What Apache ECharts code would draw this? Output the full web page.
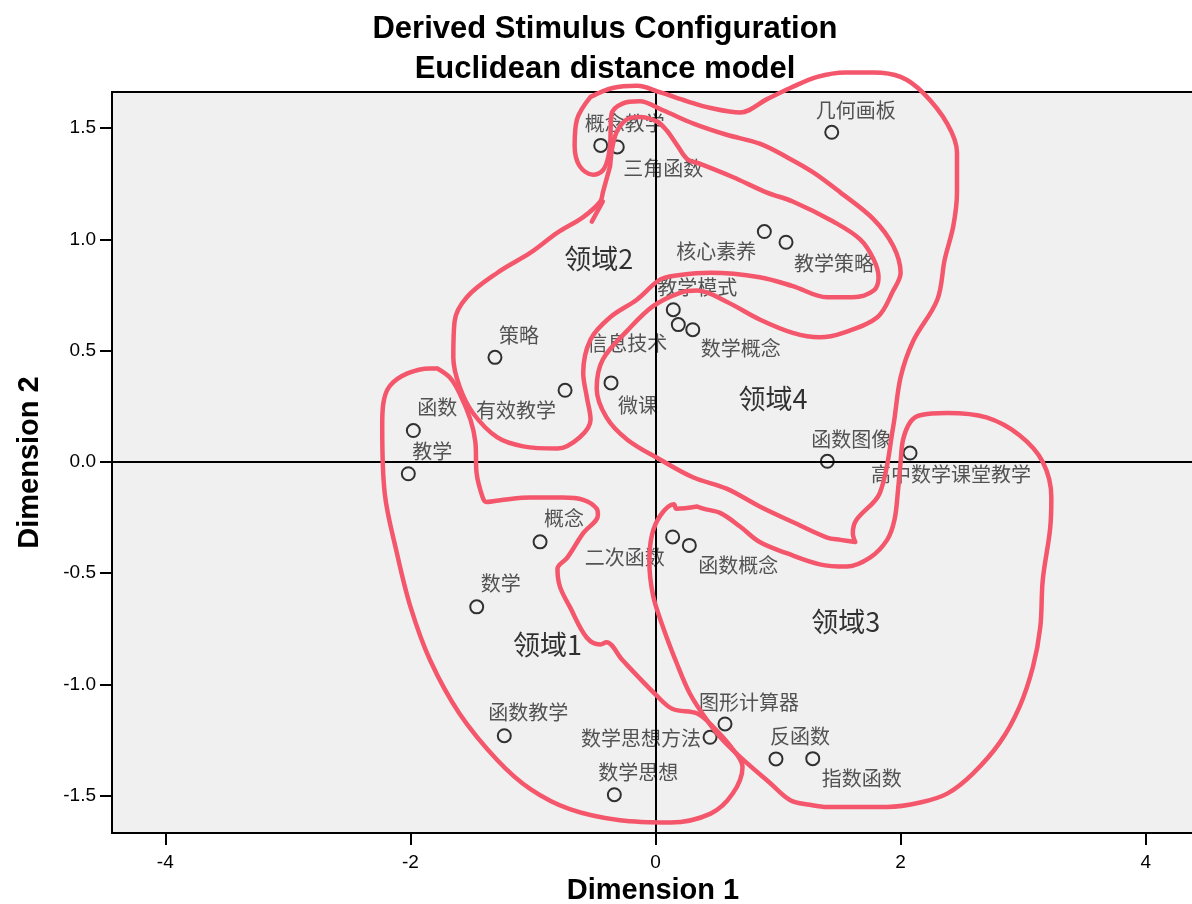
<!DOCTYPE html>
<html><head><meta charset="utf-8">
<script src="https://cdn.jsdelivr.net/npm/echarts@6/dist/echarts.min.js"></script>
<style>html,body{margin:0;padding:0;background:#fff}#c{width:1192px;height:904px}</style>
</head><body><div id="c"></div>
<script>
// ---- data ----
const names = ['概念教学','三角函数','几何画板','核心素养','教学策略','教学模式','信息技术','数学概念','策略','有效教学','微课','函数','教学','函数图像','高中数学课堂教学','概念','二次函数','函数概念','数学','函数教学','图形计算器','数学思想方法','反函数','指数函数','数学思想'];
const dim1 = [-0.447,-0.312,1.438,0.888,1.065,0.145,0.186,0.304,-1.310,-0.738,-0.363,-1.976,-2.017,1.402,2.077,-0.942,0.140,0.276,-1.459,-1.234,0.567,0.445,0.983,1.283,-0.336];
const dim2 = [1.422,1.415,1.481,1.035,0.987,0.684,0.617,0.594,0.470,0.322,0.355,0.141,-0.053,0.003,0.040,-0.359,-0.337,-0.375,-0.651,-1.230,-1.177,-1.237,-1.334,-1.333,-1.495];
// label placement (pixel offsets of label centre from its point) - style only
const labelOffset = [[24,-22],[46,21],[24,-22],[-48,20],[48,21],[24,-22],[-51,19],[48,19],[24,-22],[-49,20],[27,22],[24,-23],[24,-22],[24,-22],[41,21],[24,-23],[-48,20],[49,20],[24,-23],[24,-23],[24,-22],[-69,1],[24,-22],[49,20],[24,-22]];

const regionNames = ['领域1','领域2','领域3','领域4'];
const regionDim1 = [-0.881,-0.463,1.553,0.959];
const regionDim2 = [-0.821,0.912,-0.716,0.283];

const xTicks = [-4,-2,0,2,4];
const yTicks = [-1.5,-1.0,-0.5,0,0.5,1.0,1.5];

// hand-drawn region outlines (data units)
const domain1Curve = [[-1.78,0.42],[-1.84,0.42],[-2.17,0.34],[-2.23,0.16],[-2.21,-0.14],[-2.11,-0.41],[-2.00,-0.65],[-1.84,-0.89],[-1.60,-1.13],[-1.29,-1.34],[-1.02,-1.47],[-0.70,-1.56],[-0.29,-1.61],[0.12,-1.62],[0.45,-1.58],[0.63,-1.49],[0.71,-1.37],[0.63,-1.29],[0.47,-1.19],[0.34,-1.13],[0.14,-1.11],[0.01,-1.05],[-0.27,-0.89],[-0.40,-0.81],[-0.45,-0.82],[-0.56,-0.79],[-0.70,-0.65],[-0.78,-0.56],[-0.80,-0.48],[-0.72,-0.43],[-0.59,-0.32],[-0.47,-0.24],[-0.48,-0.21],[-0.59,-0.17],[-0.76,-0.16],[-1.02,-0.16],[-1.24,-0.17],[-1.38,-0.18],[-1.41,-0.16],[-1.46,-0.05],[-1.47,0.09],[-1.51,0.19],[-1.60,0.31],[-1.68,0.38]];
const domain2Curve = [[-0.37,1.33],[-0.43,1.21],[-0.45,1.17],[-0.59,1.10],[-0.80,1.03],[-1.02,0.94],[-1.29,0.85],[-1.54,0.74],[-1.64,0.63],[-1.65,0.47],[-1.60,0.34],[-1.49,0.22],[-1.29,0.11],[-1.08,0.07],[-0.80,0.06],[-0.62,0.11],[-0.53,0.19],[-0.56,0.29],[-0.59,0.40],[-0.53,0.55],[-0.37,0.65],[-0.15,0.73],[0.04,0.82],[0.20,0.84],[0.45,0.85],[0.85,0.83],[1.12,0.79],[1.40,0.74],[1.61,0.74],[1.78,0.77],[1.82,0.83],[1.78,0.91],[1.67,1.00],[1.45,1.08],[1.12,1.17],[0.91,1.21],[0.63,1.28],[0.36,1.34],[0.26,1.36],[0.18,1.42],[0.09,1.49],[0.01,1.53],[-0.13,1.55],[-0.23,1.54],[-0.31,1.49],[-0.35,1.42]];
const domain2Tail = [[-0.43,1.17],[-0.52,1.08]];
const domain3Curve = [[0.34,-0.20],[0.17,-0.21],[0.15,-0.19],[0.04,-0.24],[-0.03,-0.33],[-0.05,-0.45],[-0.02,-0.60],[0.06,-0.74],[0.17,-0.90],[0.28,-1.04],[0.42,-1.16],[0.55,-1.25],[0.74,-1.35],[0.93,-1.44],[1.10,-1.52],[1.26,-1.54],[1.40,-1.55],[1.61,-1.55],[1.89,-1.55],[2.16,-1.53],[2.38,-1.49],[2.59,-1.40],[2.81,-1.26],[2.97,-1.10],[3.08,-0.92],[3.14,-0.74],[3.16,-0.53],[3.22,-0.30],[3.23,-0.16],[3.16,0.00],[2.97,0.12],[2.70,0.20],[2.38,0.22],[2.16,0.21],[2.08,0.18],[2.02,0.10],[2.00,0.00],[1.98,-0.12],[1.95,-0.26],[1.89,-0.35],[1.75,-0.43],[1.56,-0.47],[1.34,-0.46],[1.07,-0.41],[0.85,-0.36],[0.69,-0.29],[0.53,-0.23],[0.39,-0.21]];
const domain4Curve = [[-0.53,1.64],[-0.35,1.68],[-0.15,1.69],[0.04,1.66],[0.26,1.62],[0.45,1.59],[0.69,1.57],[0.91,1.63],[1.10,1.68],[1.32,1.73],[1.55,1.75],[1.78,1.75],[2.00,1.73],[2.18,1.66],[2.38,1.52],[2.46,1.39],[2.46,1.21],[2.43,1.06],[2.36,0.91],[2.30,0.73],[2.10,0.54],[2.00,0.38],[1.94,0.16],[1.83,-0.14],[1.64,-0.26],[1.61,-0.32],[1.63,-0.36],[1.51,-0.35],[1.40,-0.34],[1.12,-0.27],[0.85,-0.20],[0.58,-0.12],[0.31,-0.07],[0.04,0.01],[-0.23,0.10],[-0.40,0.20],[-0.48,0.33],[-0.43,0.46],[-0.23,0.59],[-0.02,0.70],[0.20,0.76],[0.34,0.77],[0.58,0.72],[0.85,0.64],[1.12,0.58],[1.34,0.56],[1.53,0.58],[1.81,0.65],[1.94,0.77],[2.00,0.85],[1.94,0.97],[1.78,1.09],[1.51,1.21],[1.29,1.30],[1.07,1.37],[0.85,1.43],[0.58,1.47],[0.31,1.52],[0.06,1.58],[-0.13,1.62],[-0.27,1.61],[-0.36,1.56],[-0.37,1.43],[-0.39,1.36],[-0.43,1.31],[-0.51,1.29],[-0.62,1.33],[-0.66,1.42],[-0.64,1.54]];

// ---- chart ----
const chart = echarts.init(document.getElementById('c'), null, {renderer: 'canvas'});
const latin = "'Liberation Sans', Arial, Helvetica, sans-serif";
const cjk = "'Noto Sans CJK SC', 'Noto Sans', sans-serif";
const RED = '#f4566b';
const close = a => a.concat([a[0]]);
const curveSeries = (d, closed) => ({
  type: 'line', data: closed ? close(d) : d, smooth: 0.35, showSymbol: false, symbol: 'none',
  clip: false, silent: true, z: 10,
  lineStyle: {color: RED, width: 4.5, cap: 'round', join: 'round'}
});

chart.setOption({
  animation: false,
  backgroundColor: '#ffffff',
  title: {
    text: 'Derived Stimulus Configuration\nEuclidean distance model',
    left: 600, top: 4, textAlign: 'center',
    textStyle: {fontFamily: latin, fontWeight: 'bold', fontSize: 31, lineHeight: 40, color: '#000'}
  },
  grid: {left: 112, top: 92, right: -2, bottom: 71, show: true, backgroundColor: '#f0f0f0', borderColor: '#000', borderWidth: 2, outerBoundsMode: 'none', containLabel: false},
  xAxis: {
    type: 'value', min: -4.435, max: 4.394, position: 'bottom',
    axisLine: {show: false, onZero: false}, splitLine: {show: false},
    axisTick: {show: true, length: 12, customValues: xTicks, lineStyle: {color: '#000', width: 2}},
    axisLabel: {customValues: xTicks, formatter: v => String(v), fontFamily: latin, fontSize: 19, color: '#000', margin: 20},
    name: 'Dimension 1', nameLocation: 'middle', nameGap: 42,
    nameTextStyle: {fontFamily: latin, fontWeight: 'bold', fontSize: 29, color: '#000'}
  },
  yAxis: {
    type: 'value', min: -1.667, max: 1.662, position: 'left',
    axisLine: {show: false, onZero: false}, splitLine: {show: false},
    axisTick: {show: true, length: 12, customValues: yTicks, lineStyle: {color: '#000', width: 2}},
    axisLabel: {customValues: yTicks, formatter: v => v.toFixed(1), fontFamily: latin, fontSize: 19, color: '#000', margin: 16},
    name: 'Dimension 2', nameLocation: 'middle', nameGap: 68,
    nameTextStyle: {fontFamily: latin, fontWeight: 'bold', fontSize: 29, color: '#000'}
  },
  series: [
    {
      type: 'scatter', z: 3, silent: true,
      symbol: 'circle', symbolSize: 13,
      itemStyle: {color: 'rgba(0,0,0,0)', borderColor: '#000', borderWidth: 2},
      label: {show: true, position: 'inside', formatter: '{b}', fontFamily: cjk, fontSize: 20, color: '#2a2a2a'},
      data: names.map((n, i) => ({name: n, value: [dim1[i], dim2[i]], label: {offset: labelOffset[i]}})),
      markLine: {
        silent: true, symbol: ['none', 'none'], label: {show: false}, animation: false,
        lineStyle: {color: '#000', width: 2, type: 'solid'},
        data: [{xAxis: 0}, {yAxis: 0}]
      }
    },
    {
      type: 'scatter', z: 4, silent: true, symbolSize: 0,
      label: {show: true, position: 'inside', formatter: '{b}', fontFamily: cjk, fontSize: 27, color: '#000'},
      data: regionNames.map((n, i) => ({name: n, value: [regionDim1[i], regionDim2[i]]}))
    },
    curveSeries(domain1Curve, true),
    curveSeries(domain2Curve, true),
    curveSeries(domain2Tail, false),
    curveSeries(domain3Curve, true),
    curveSeries(domain4Curve, true)
  ]
});
</script>
</body></html>
